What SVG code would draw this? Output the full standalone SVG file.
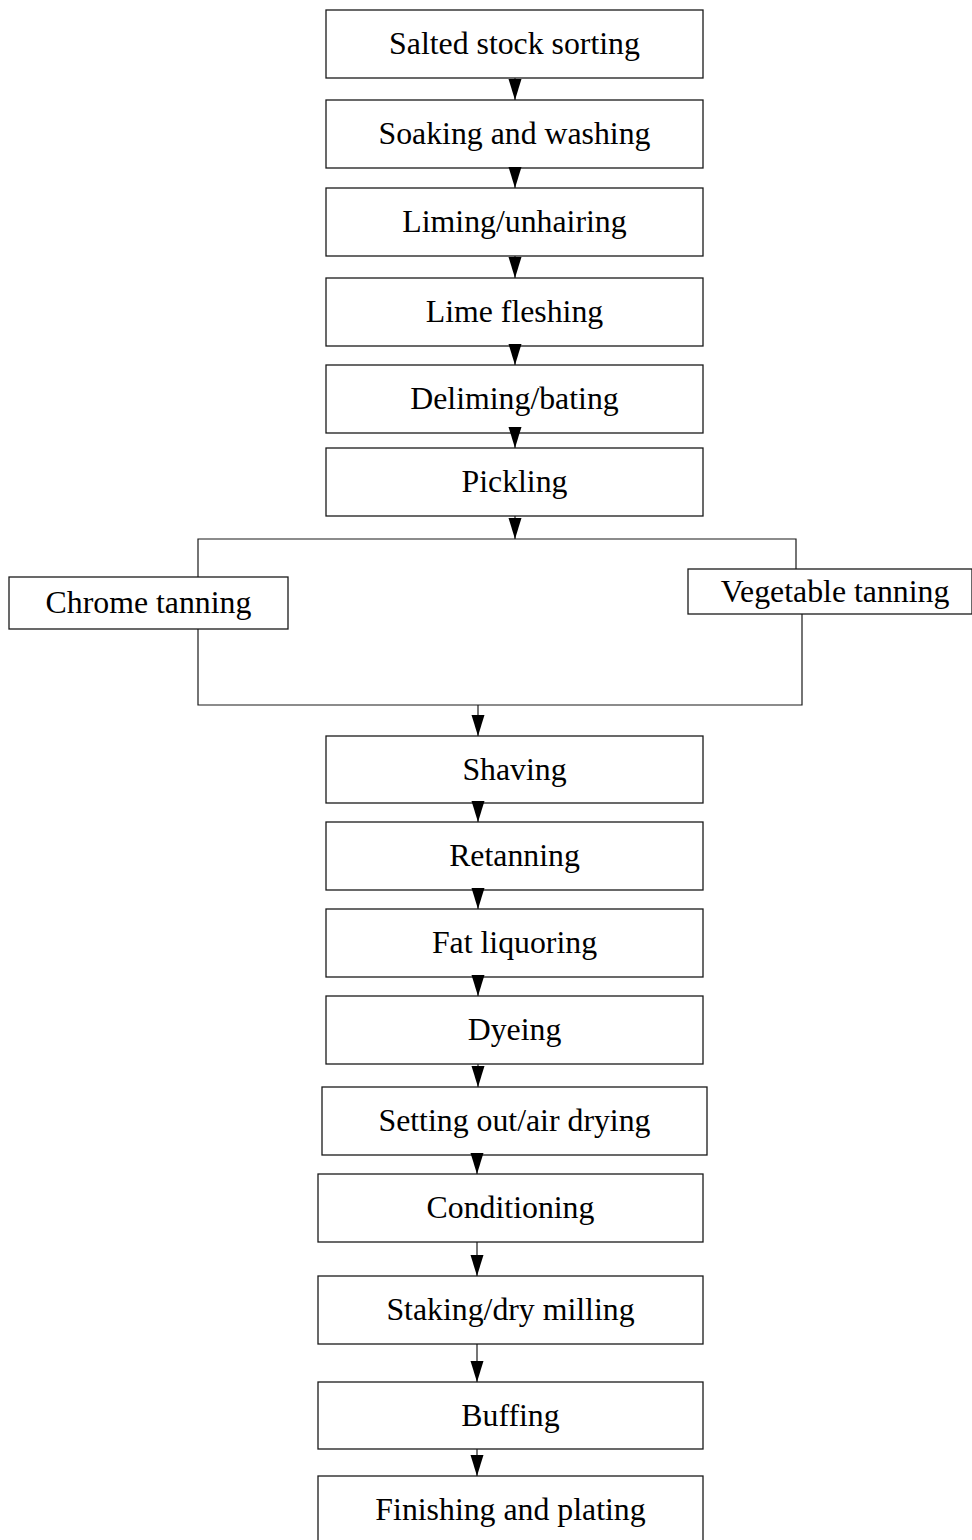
<svg xmlns="http://www.w3.org/2000/svg" width="972" height="1540" viewBox="0 0 972 1540">
<style>
.box{fill:#fff;stroke:#1a1a1a;stroke-width:1.3}
.lbl{font-family:"Liberation Serif","Times New Roman",serif;font-size:31.8px;fill:#000;text-anchor:middle}
.con{fill:none;stroke:#1a1a1a;stroke-width:1.2}
</style>
<defs>
<marker id="ah" markerUnits="userSpaceOnUse" markerWidth="22" markerHeight="14" refX="21" refY="6.5" orient="auto">
<path d="M0,0 L21,6.5 L0,13 z" fill="#000"/>
</marker>
</defs>
<rect width="972" height="1540" fill="#fff"/>
<g id="n1"><rect class="box" x="326" y="10" width="377" height="68"/><text class="lbl" x="514.5" y="54">Salted stock sorting</text></g>
<g id="n2"><rect class="box" x="326" y="100" width="377" height="68"/><text class="lbl" x="514.5" y="144">Soaking and washing</text></g>
<g id="n3"><rect class="box" x="326" y="188" width="377" height="68"/><text class="lbl" x="514.5" y="232">Liming/unhairing</text></g>
<g id="n4"><rect class="box" x="326" y="278" width="377" height="68"/><text class="lbl" x="514.5" y="322">Lime fleshing</text></g>
<g id="n5"><rect class="box" x="326" y="365" width="377" height="68"/><text class="lbl" x="514.5" y="409">Deliming/bating</text></g>
<g id="n6"><rect class="box" x="326" y="448" width="377" height="68"/><text class="lbl" x="514.5" y="492">Pickling</text></g>
<g id="n7"><rect class="box" x="9" y="577" width="279" height="52"/><text class="lbl" x="148.5" y="613">Chrome tanning</text></g>
<g id="n8"><rect class="box" x="688" y="569" width="284" height="45"/><text class="lbl" x="835" y="602">Vegetable tanning</text></g>
<g id="n9"><rect class="box" x="326" y="736" width="377" height="67"/><text class="lbl" x="514.5" y="780">Shaving</text></g>
<g id="n10"><rect class="box" x="326" y="822" width="377" height="68"/><text class="lbl" x="514.5" y="866">Retanning</text></g>
<g id="n11"><rect class="box" x="326" y="909" width="377" height="68"/><text class="lbl" x="514.5" y="953">Fat liquoring</text></g>
<g id="n12"><rect class="box" x="326" y="996" width="377" height="68"/><text class="lbl" x="514.5" y="1040">Dyeing</text></g>
<g id="n13"><rect class="box" x="322" y="1087" width="385" height="68"/><text class="lbl" x="514.5" y="1131">Setting out/air drying</text></g>
<g id="n14"><rect class="box" x="318" y="1174" width="385" height="68"/><text class="lbl" x="510.5" y="1218">Conditioning</text></g>
<g id="n15"><rect class="box" x="318" y="1276" width="385" height="68"/><text class="lbl" x="510.5" y="1320">Staking/dry milling</text></g>
<g id="n16"><rect class="box" x="318" y="1382" width="385" height="67"/><text class="lbl" x="510.5" y="1426">Buffing</text></g>
<g id="n17"><rect class="box" x="318" y="1476" width="385" height="68"/><text class="lbl" x="510.5" y="1520">Finishing and plating</text></g>
<g id="connectors">
<line class="con" x1="515" y1="78" x2="515" y2="100" marker-end="url(#ah)"/>
<line class="con" x1="515" y1="168" x2="515" y2="188" marker-end="url(#ah)"/>
<line class="con" x1="515" y1="256" x2="515" y2="278" marker-end="url(#ah)"/>
<line class="con" x1="515" y1="346" x2="515" y2="365" marker-end="url(#ah)"/>
<line class="con" x1="515" y1="427" x2="515" y2="448" marker-end="url(#ah)"/>
<line class="con" x1="515" y1="516" x2="515" y2="539" marker-end="url(#ah)"/>
<polyline class="con" points="198,577 198,539 796,539 796,569"/>
<polyline class="con" points="198,629 198,705 802,705 802,614"/>
<line class="con" x1="478" y1="705" x2="478" y2="736" marker-end="url(#ah)"/>
<line class="con" x1="478" y1="803" x2="478" y2="822" marker-end="url(#ah)"/>
<line class="con" x1="478" y1="890" x2="478" y2="909" marker-end="url(#ah)"/>
<line class="con" x1="478" y1="977" x2="478" y2="996" marker-end="url(#ah)"/>
<line class="con" x1="478" y1="1064" x2="478" y2="1087" marker-end="url(#ah)"/>
<line class="con" x1="477" y1="1155" x2="477" y2="1174" marker-end="url(#ah)"/>
<line class="con" x1="477" y1="1242" x2="477" y2="1276" marker-end="url(#ah)"/>
<line class="con" x1="477" y1="1344" x2="477" y2="1382" marker-end="url(#ah)"/>
<line class="con" x1="477" y1="1449" x2="477" y2="1476" marker-end="url(#ah)"/>
</g>
</svg>
